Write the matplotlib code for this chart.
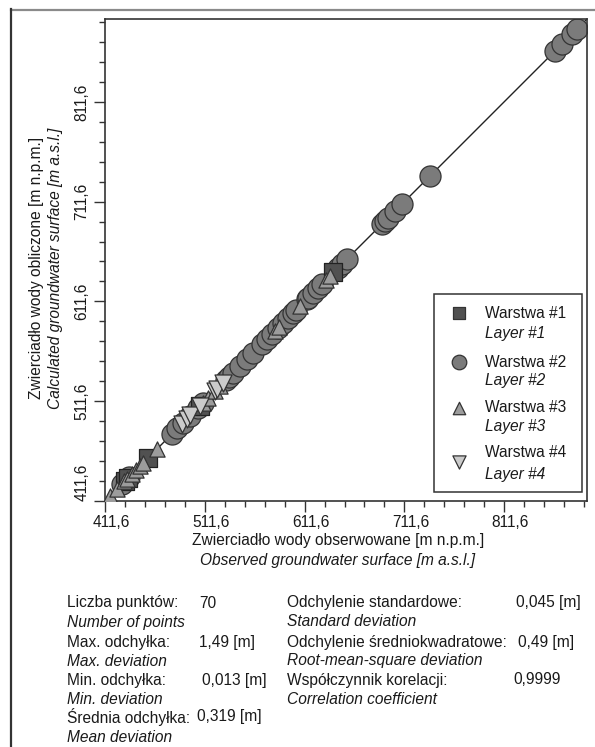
import numpy as np
import matplotlib
matplotlib.use("Agg")
import matplotlib.pyplot as plt
from matplotlib.lines import Line2D
from matplotlib.patches import Rectangle
from matplotlib.transforms import ScaledTranslation

plt.rcParams['font.family'] = ['Liberation Sans', 'DejaVu Sans']
FS = 11.2
TXT = '#1a1a1a'

# ------------------------------------------------------------------
# Dane: zwierciadło obserwowane / obliczone [m n.p.m.]  (70 punktów)
# ------------------------------------------------------------------
w1_obs  = [432.1, 434.6, 454.7, 506.8, 640.2]
w1_obl  = [431.8, 435.1, 454.3, 507.2, 640.9]

w2_obs  = [428.6, 436.0, 478.7, 484.0, 489.8, 497.0, 504.8, 510.0, 533.0,
           536.0, 539.9, 546.9, 553.9, 560.0, 568.9, 574.0, 578.9, 585.0,
           590.0, 595.0, 600.0, 603.0, 614.0, 615.0, 620.0, 625.0, 629.0,
           645.0, 649.1, 654.1, 689.2, 692.0, 695.2, 702.2, 709.2, 737.2,
           862.5, 869.5, 879.6, 884.6]
w2_obl  = [428.9, 435.7, 478.4, 484.3, 490.1, 496.8, 504.5, 510.3, 532.7,
           536.3, 540.2, 546.6, 554.3, 559.8, 568.7, 574.2, 579.2, 584.8,
           589.7, 595.4, 600.3, 602.8, 613.8, 615.3, 620.2, 624.8, 628.7,
           645.3, 649.4, 653.9, 689.0, 692.3, 695.5, 701.9, 709.5, 736.9,
           862.2, 869.8, 879.4, 884.9]

w3_obs  = [416.6, 423.6, 431.0, 434.0, 438.7, 442.7, 446.7, 449.7, 463.7,
           510.0, 515.0, 521.8, 526.8, 582.0, 586.0, 607.0, 633.0, 637.1]
w3_obl  = [416.3, 423.9, 431.3, 433.8, 438.4, 443.0, 446.5, 450.1, 464.1,
           510.2, 514.7, 522.1, 526.5, 582.3, 585.8, 606.8, 633.2, 636.8]

w4_obs  = [488.8, 493.8, 497.0, 506.8, 521.8, 524.0, 529.9]
w4_obl  = [489.1, 493.5, 497.3, 507.1, 521.5, 524.2, 530.2]

os_min, os_max = 411.6, 894.6
major_ticks = [411.6, 511.6, 611.6, 711.6, 811.6]
minor_ticks = np.arange(411.6, 894.0, 20.0)
tick_labels = ['411,6', '511,6', '611,6', '711,6', '811,6']

legenda_pl = ['Warstwa #1', 'Warstwa #2', 'Warstwa #3', 'Warstwa #4']
legenda_en = ['Layer #1', 'Layer #2', 'Layer #3', 'Layer #4']

stat_pl_l  = ['Liczba punktów:', 'Max. odchyłka:', 'Min. odchyłka:', 'Średnia odchyłka:']
stat_en_l  = ['Number of points', 'Max. deviation', 'Min. deviation', 'Mean deviation']
stat_val_l = ['70', '1,49 [m]', '0,013 [m]', '0,319 [m]']
stat_pl_r  = ['Odchylenie standardowe:', 'Odchylenie średniokwadratowe:', 'Współczynnik korelacji:']
stat_en_r  = ['Standard deviation', 'Root-mean-square deviation', 'Correlation coefficient']
stat_val_r = ['0,045 [m]', '0,49 [m]', '0,9999']

# ------------------------------------------------------------------
# Figura
# ------------------------------------------------------------------
W, H = 595, 747
fig = plt.figure(figsize=(W / 100, H / 100), dpi=100)
ax = fig.add_axes([105 / W, 1 - 501 / H, 482 / W, 482 / H])

# linia 1:1
ax.plot([os_min, os_max], [os_min, os_max], color='#222222', lw=1.0, zorder=1)

# serie
ax.scatter(w2_obs, w2_obl, marker='o', s=230, c='#7b7b7b', edgecolors='#333333',
           linewidths=0.9, zorder=2)
ax.scatter(w1_obs, w1_obl, marker='s', s=150, c='#515151', edgecolors='#222222',
           linewidths=0.9, zorder=3)
ax.scatter(w3_obs, w3_obl, marker='^', s=120, c='#9c9c9c', edgecolors='#333333',
           linewidths=0.9, zorder=4)
ax.scatter(w4_obs, w4_obl, marker='v', s=150, c='#cbcbcb', edgecolors='#333333',
           linewidths=0.9, zorder=5)

ax.set_xlim(os_min, os_max)
ax.set_ylim(os_min, os_max)
ax.set_xticks(major_ticks)
ax.set_yticks(major_ticks)
ax.set_xticks(minor_ticks, minor=True)
ax.set_yticks(minor_ticks, minor=True)
ax.set_xticklabels(tick_labels)
ax.set_yticklabels(tick_labels)
ax.tick_params(which='major', length=8, width=1.0, color='#333333',
               labelsize=FS, labelcolor=TXT)
ax.tick_params(which='minor', length=4.5, width=1.0, color='#333333')
ax.tick_params(axis='x', which='major', pad=2)
ax.tick_params(axis='y', which='major', pad=3, labelrotation=90)
for sp in ax.spines.values():
    sp.set_linewidth(1.2)
    sp.set_color('#333333')

for lbl in ax.get_yticklabels():
    lbl.set_verticalalignment('center')
ax.get_yticklabels()[0].set_verticalalignment('bottom')
for lbl in ax.get_xticklabels():
    lbl.set_transform(lbl.get_transform() + ScaledTranslation(6 / 100, 0, fig.dpi_scale_trans))

# opisy osi
fig.text(338 / W, 1 - 541 / H, 'Zwierciadło wody obserwowane [m n.p.m.]',
         ha='center', va='center', fontsize=FS, color=TXT)
fig.text(338 / W, 1 - 560 / H, 'Observed groundwater surface [m a.s.l.]',
         ha='center', va='center', fontsize=FS, color=TXT, style='italic')
fig.text(37 / W, 1 - 268 / H, 'Zwierciadło wody obliczone [m n.p.m.]',
         ha='center', va='center', rotation=90, fontsize=FS, color=TXT)
fig.text(56 / W, 1 - 268 / H, 'Calculated groundwater surface [m a.s.l.]',
         ha='center', va='center', rotation=90, fontsize=FS, color=TXT, style='italic')

# legenda (rysowana ręcznie, dwujęzyczna)
ax.add_patch(Rectangle((0.6826, 0.0187), 0.307, 0.4108, transform=ax.transAxes,
                       facecolor='white', edgecolor='#333333', lw=1.1, zorder=10))
leg_mark = ['s', 'o', '^', 'v']
leg_col = ['#515151', '#7b7b7b', '#9c9c9c', '#cbcbcb']
leg_size = [85, 110, 80, 90]
leg_my = [0.390, 0.288, 0.193, 0.081]
leg_ty = [(0.390, 0.347), (0.288, 0.249), (0.195, 0.154), (0.100, 0.056)]
for i in range(4):
    ax.scatter([0.7344], [leg_my[i]], marker=leg_mark[i], s=leg_size[i], c=leg_col[i],
               edgecolors='#333333', linewidths=0.9, transform=ax.transAxes,
               zorder=11, clip_on=False)
    ax.text(0.7884, leg_ty[i][0], legenda_pl[i], transform=ax.transAxes,
            ha='left', va='center', fontsize=FS, color=TXT, zorder=11)
    ax.text(0.7884, leg_ty[i][1], legenda_en[i], transform=ax.transAxes,
            ha='left', va='center', fontsize=FS, color=TXT, style='italic', zorder=11)

# statystyki
row_y = [603, 622, 642, 661, 680, 699, 717, 737]
val_xl = [199, 199, 202, 197]
val_xr = [516, 518, 513]
for i in range(4):
    fig.text(67 / W, 1 - row_y[2 * i] / H, stat_pl_l[i], ha='left', va='center',
             fontsize=FS, color=TXT)
    fig.text(67 / W, 1 - row_y[2 * i + 1] / H, stat_en_l[i], ha='left', va='center',
             fontsize=FS, color=TXT, style='italic')
    fig.text(val_xl[i] / W, 1 - row_y[2 * i] / H, stat_val_l[i], ha='left', va='center',
             fontsize=FS, color=TXT)
for i in range(3):
    fig.text(287 / W, 1 - row_y[2 * i] / H, stat_pl_r[i], ha='left', va='center',
             fontsize=FS, color=TXT)
    fig.text(287 / W, 1 - row_y[2 * i + 1] / H, stat_en_r[i], ha='left', va='center',
             fontsize=FS, color=TXT, style='italic')
    fig.text(val_xr[i] / W, 1 - row_y[2 * i] / H, stat_val_r[i], ha='left', va='center',
             fontsize=FS, color=TXT)

# ramka strony
fig.add_artist(Line2D([11 / W, 1.0], [1 - 9.5 / H, 1 - 9.5 / H], transform=fig.transFigure,
                      color='#8a8a8a', lw=1.6))
fig.add_artist(Line2D([11 / W, 11 / W], [0.0, 1 - 9 / H], transform=fig.transFigure,
                      color='#333333', lw=1.6))

fig.savefig('out.png', dpi=100, facecolor='white')
